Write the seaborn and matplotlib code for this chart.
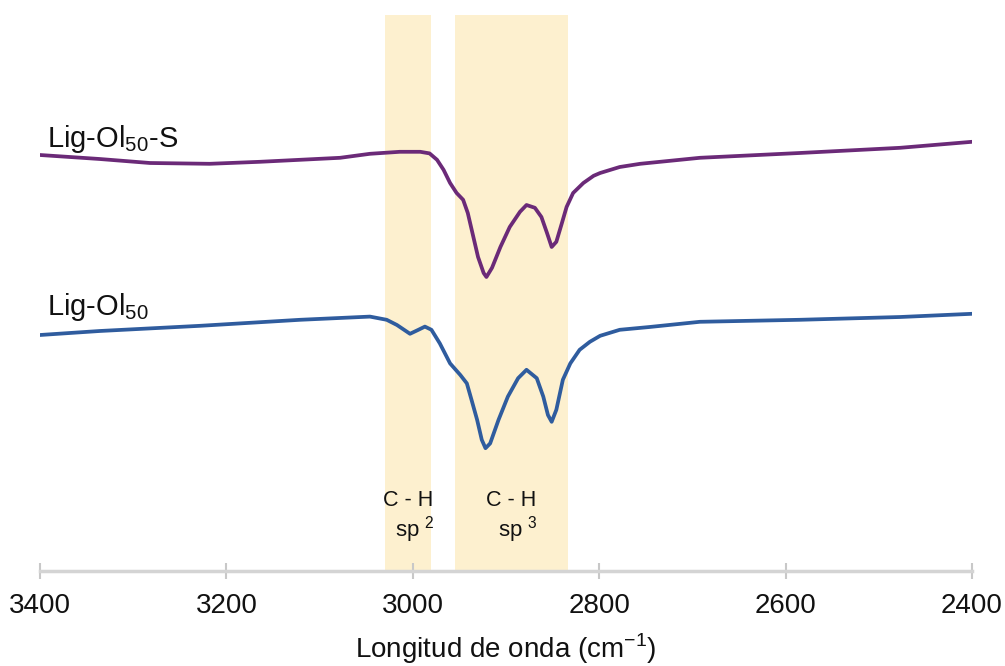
import pandas as pd
import matplotlib
matplotlib.use("Agg")
import matplotlib.pyplot as plt
import seaborn as sns

# Wavenumbers (cm-1) and relative transmittance (a.u.)
wn_s = [3400, 3336, 3282, 3218, 3164, 3121, 3078, 3046, 3014, 2992, 2982, 2974,
        2967, 2960, 2953, 2946, 2941, 2935, 2930, 2924, 2921, 2915, 2906, 2896,
        2885, 2878, 2869, 2862, 2856, 2851, 2846, 2840, 2835, 2828, 2817, 2806,
        2799, 2778, 2756, 2692, 2585, 2477, 2400]
t_s = [104.0, 103.0, 102.0, 101.8, 102.3, 102.8, 103.3, 104.3, 104.8, 104.8,
       104.4, 102.8, 100.3, 97.0, 94.5, 92.8, 89.5, 83.5, 78.5, 74.5, 73.5,
       75.8, 81.0, 86.0, 89.8, 91.5, 90.8, 88.5, 84.5, 81.0, 82.3, 87.0, 91.0,
       94.5, 97.0, 98.8, 99.5, 101.0, 101.8, 103.3, 104.5, 105.8, 107.3]

wn_b = [3400, 3336, 3228, 3121, 3046, 3028, 3017, 3003, 2994, 2987, 2980, 2971,
        2960, 2949, 2942, 2937, 2931, 2926, 2922, 2917, 2908, 2898, 2887, 2878,
        2867, 2860, 2855, 2851, 2846, 2839, 2831, 2821, 2810, 2799, 2778, 2746,
        2692, 2585, 2477, 2400]
t_b = [59.0, 60.0, 61.3, 62.8, 63.6, 62.8, 61.5, 59.3, 60.3, 61.1, 60.3, 56.9,
       51.9, 49.0, 46.9, 42.8, 37.8, 32.8, 30.7, 31.9, 37.8, 43.6, 48.2, 50.3,
       48.2, 43.6, 39.0, 37.3, 40.3, 47.8, 51.9, 55.3, 57.3, 58.8, 60.3, 61.0,
       62.3, 62.8, 63.5, 64.3]

bands = [(3030, 2980), (2955, 2833)]
band_top_x = [3005, 2895]
band_bot_x = [2998, 2887]
band_sup = ["2", "3"]

df = pd.concat([
    pd.DataFrame({"wn": wn_s, "t": t_s, "muestra": "Lig-Ol50-S"}),
    pd.DataFrame({"wn": wn_b, "t": t_b, "muestra": "Lig-Ol50"}),
])

sns.set_theme(style="white")
plt.rcParams["font.family"] = ["Liberation Sans", "DejaVu Sans"]

fig = plt.figure(figsize=(10.05, 6.66), dpi=100)
ax = fig.add_axes([40 / 1005, 1 - 571 / 666, 932 / 1005, 556 / 666])

for (a, b) in bands:
    ax.axvspan(a, b, color="#fdf0cf", lw=0, zorder=0)

sns.lineplot(data=df, x="wn", y="t", hue="muestra",
             palette={"Lig-Ol50-S": "#6b2a78", "Lig-Ol50": "#2f5c9e"},
             linewidth=2.7, legend=False, ax=ax, sort=False)
for ln in ax.lines:
    ln.set_solid_joinstyle("round")
    ln.set_solid_capstyle("round")

ax.set_xlim(3400, 2400)
ax.set_ylim(0, 139)
ax.set_xticks([3400, 3200, 3000, 2800, 2600, 2400])
ax.set_yticks([])
for s in ["top", "right", "left"]:
    ax.spines[s].set_visible(False)
ax.spines["bottom"].set_color("#d4d4d4")
ax.spines["bottom"].set_linewidth(2.5)
ax.tick_params(axis="x", direction="inout", length=11, width=1.5, color="#c8c8c8",
               labelsize=20, pad=10, labelcolor="#111111", bottom=True)
ax.set_xlabel("Longitud de onda (cm$^{\\mathregular{-1}}$)", fontsize=20, labelpad=9,
              color="#111111")
ax.set_ylabel("")

ax.text(3392, 106, "Lig-Ol$_{\\mathregular{50}}$-S", fontsize=21, va="baseline",
        color="#111111")
ax.text(3392, 64, "Lig-Ol$_{\\mathregular{50}}$", fontsize=21, va="baseline",
        color="#111111")

xt = ax.get_xaxis_transform()
for xa, xb, sup in zip(band_top_x, band_bot_x, band_sup):
    ax.text(xa, 0.126, "C - H", transform=xt, fontsize=15.5,
            ha="center", va="center", color="#111111")
    ax.text(xb, 0.074, "sp $^{\\mathregular{" + sup + "}}$", transform=xt,
            fontsize=16, ha="center", va="center", color="#111111")

fig.savefig("out.png", dpi=100)
